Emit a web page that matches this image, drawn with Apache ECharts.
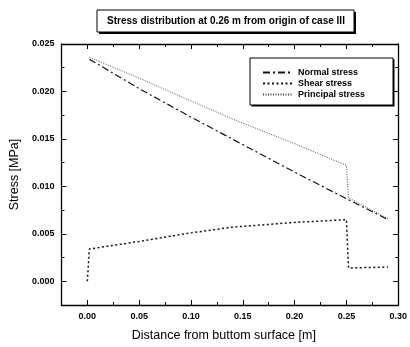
<!DOCTYPE html>
<html>
<head>
<meta charset="utf-8">
<script src="https://cdn.jsdelivr.net/npm/echarts@6/dist/echarts.min.js"></script>
<style>
  html, body { margin: 0; padding: 0; background: #fff; }
  #chart { width: 410px; height: 347px; }
</style>
</head>
<body>
<div id="chart"></div>
<script>
// values
const normalX = [0.002, 0.05, 0.10, 0.15, 0.20, 0.25, 0.29];
const normalY = [0.0234, 0.0203, 0.0173, 0.0144, 0.0115, 0.0087, 0.0065];
const shearX = [0.000, 0.002, 0.05, 0.10, 0.14, 0.20, 0.25, 0.252, 0.29];
const shearY = [0.0000, 0.0034, 0.0042, 0.0051, 0.0057, 0.0062, 0.0065, 0.0014, 0.0015];
const principalX = [0.002, 0.05, 0.10, 0.14, 0.20, 0.25, 0.252, 0.29];
const principalY = [0.0236, 0.0214, 0.0190, 0.0171, 0.0145, 0.0122, 0.0088, 0.0066];
const xMajor = [0, 0.05, 0.10, 0.15, 0.20, 0.25, 0.30];
const xMinor = [0.025, 0.075, 0.125, 0.175, 0.225, 0.275];
const yMajor = [0, 0.005, 0.010, 0.015, 0.020, 0.025];
const yMinor = [0.0025, 0.0075, 0.0125, 0.0175, 0.0225];

const pairs = (xs, ys) => xs.map((x, i) => [x, ys[i]]);
const font = 'Liberation Sans, Arial, sans-serif';

function axis(pos, min, max, ticks, len, labels, line) {
  return {
    type: 'value', position: pos, min: min, max: max,
    axisLine: { show: line, onZero: false, lineStyle: { color: '#000', width: 1.3 } },
    axisTick: { show: true, inside: true, length: len, customValues: ticks,
      lineStyle: { color: '#000', width: 1 } },
    axisLabel: labels ? {
      customValues: labels, color: '#000', fontSize: 9, fontWeight: 'bold', fontFamily: font,
      margin: 7, formatter: v => v.toFixed(pos === 'left' ? 3 : 2)
    } : { show: false },
    splitLine: { show: false }
  };
}

const xb = axis('bottom', -0.025, 0.3, xMajor, 5, xMajor, true);
xb.name = 'Distance from buttom surface [m]';
xb.nameLocation = 'middle';
xb.nameGap = 24;
xb.nameTextStyle = { fontSize: 12.5, fontFamily: font, color: '#000', padding: [0, 12, 0, 0] };
const yl = axis('left', -0.0025, 0.025, yMajor, 5, yMajor, true);
yl.name = 'Stress [MPa]';
yl.nameLocation = 'middle';
yl.nameGap = 36;
yl.nameTextStyle = { fontSize: 12.5, fontFamily: font, color: '#000' };

const chart = echarts.init(document.getElementById('chart'));
chart.setOption({
  animation: false,
  grid: { left: 55, right: 9, top: 44, bottom: 41 },
  xAxis: [
    xb,
    axis('bottom', -0.025, 0.3, xMinor, 3, null, false),
    axis('top', -0.025, 0.3, xMajor, 5, null, true),
    axis('top', -0.025, 0.3, xMinor, 3, null, false)
  ],
  yAxis: [
    yl,
    axis('left', -0.0025, 0.025, yMinor, 3, null, false),
    axis('right', -0.0025, 0.025, yMajor, 5, null, true),
    axis('right', -0.0025, 0.025, yMinor, 3, null, false)
  ],
  legend: {
    orient: 'vertical', left: 262, top: 68, padding: 0, z: 30,
    itemWidth: 30, itemHeight: 10, itemGap: 2,
    itemStyle: { color: 'transparent', borderWidth: 0, opacity: 0 },
    textStyle: { fontSize: 9, fontWeight: 'bold', fontFamily: font, color: '#000' },
    data: ['Normal stress', 'Shear stress', 'Principal stress']
  },
  graphic: [
    { type: 'rect', shape: { x: 99, y: 12, width: 257, height: 22 }, style: { fill: '#000' }, z: 10 },
    { type: 'rect', shape: { x: 97, y: 10, width: 257, height: 22 },
      style: { fill: '#fff', stroke: '#000', lineWidth: 1 }, z: 11 },
    { type: 'text', x: 226, y: 21, z: 12,
      style: { text: 'Stress distribution at 0.26 m from origin of case III', fontSize: 10,
        fontWeight: 'bold', fontFamily: font, fill: '#000', align: 'center', verticalAlign: 'middle' } },
    { type: 'rect', shape: { x: 251.5, y: 59.5, width: 143, height: 47 }, style: { fill: '#000' }, z: 10 },
    { type: 'rect', shape: { x: 250, y: 58, width: 143, height: 47 },
      style: { fill: '#fff', stroke: '#000', lineWidth: 1 }, z: 11 }
  ],
  series: [
    { name: 'Normal stress', type: 'line', symbol: 'none', data: pairs(normalX, normalY),
      lineStyle: { color: '#111', width: 1.2, type: [7, 3, 2, 3] }, itemStyle: { color: '#111' }, z: 3 },
    { name: 'Shear stress', type: 'line', symbol: 'none', data: pairs(shearX, shearY),
      lineStyle: { color: '#111', width: 1.5, type: [2, 2.5] }, itemStyle: { color: '#111' }, z: 3 },
    { name: 'Principal stress', type: 'line', symbol: 'none', data: pairs(principalX, principalY),
      lineStyle: { color: '#444', width: 1, type: [1, 1.5] }, itemStyle: { color: '#444' }, z: 3 }
  ]
});
</script>
</body>
</html>
